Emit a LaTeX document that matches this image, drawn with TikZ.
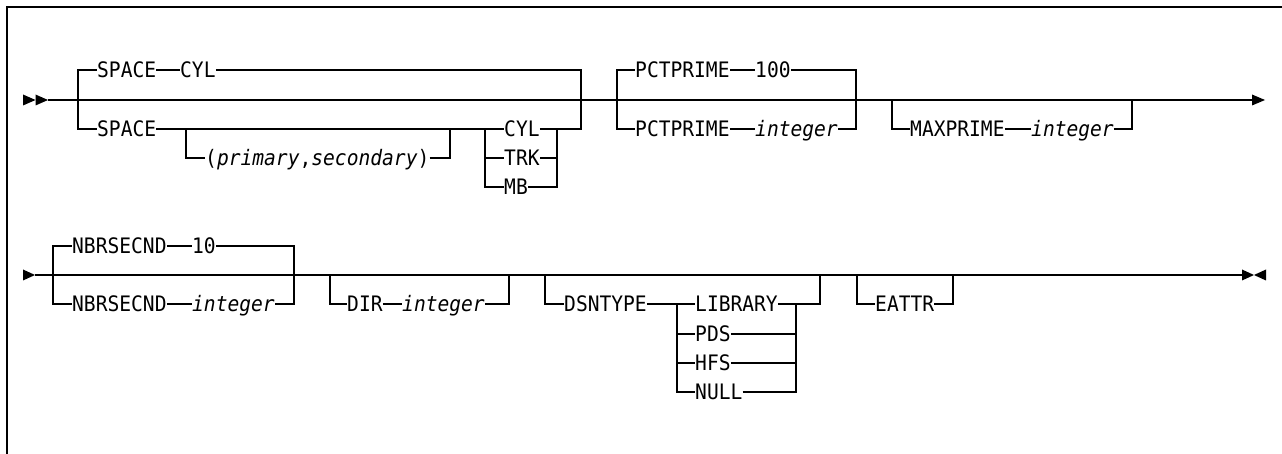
\documentclass[tikz,border=0pt]{standalone}
\usepackage{fontspec}
\newfontfamily\rrfont[FakeStretch=0.92]{DejaVu Sans Mono}
\begin{document}
\begin{tikzpicture}[x=1pt,y=-1pt,
  kw/.style={font=\rrfont\fontsize{21.3pt}{24pt}\selectfont, inner sep=0pt, anchor=west, text height=15.5pt, text depth=0pt},
  var/.style={kw, font=\rrfont\fontsize{21.3pt}{24pt}\selectfont\itshape},
  rail/.style={line width=1.3pt, line join=miter},
  tip/.style={fill=black}]
\useasboundingbox (0,0) rectangle (1282,454);
% frame
\draw[line width=1.6pt] (7,454) -- (7,7) -- (1282,7);

% ===== Row 1 =====
\coordinate (r1s) at (48,100);
\coordinate (r1e) at (1252,100);
\draw[rail] (r1s) -- (r1e);
\fill[tip] (23,94.5) -- (35.5,100) -- (23,105.5) -- cycle;
\fill[tip] (35.5,94.5) -- (48,100) -- (35.5,105.5) -- cycle;
\fill[tip] (r1e) ++(0,-5.5) -- (1265,100) -- (1252,105.5) -- cycle;

% SPACE group
\node[kw] (sp1) at (97,70) {SPACE};
\node[kw] (cyl1) at (180,70) {CYL};
\node[kw] (sp2) at (97,129) {SPACE};
\node[kw] (ps) at (205,158) {(\textit{primary},\textit{secondary})};
\node[kw] (cyl2) at (504,129) {CYL};
\node[kw] (trk) at (504,158) {TRK};
\node[kw] (mb) at (504,187) {MB};
\coordinate (g1l) at (78,100);
\coordinate (g1r) at (581,100);
\draw[rail] (g1l) -- (78,70) -- (sp1.west);
\draw[rail] (sp1.east) -- (cyl1.west);
\draw[rail] (cyl1.east) -- (581,70) -- (581,129) -- (557,129);
\draw[rail] (g1l) -- (78,129) -- (sp2.west);
\draw[rail] (sp2.east) -- (485,129);
\draw[rail] (186,129) -- (186,158) -- (ps.west);
\draw[rail] (ps.east) -- (450,158) -- (450,129);
\draw[rail] (485,129) -- (cyl2.west);
\draw[rail] (485,129) -- (485,187) -- (mb.west);
\draw[rail] (485,158) -- (trk.west);
\draw[rail] (cyl2.east) -- (557,129) -- (557,187) -- (mb.east);
\draw[rail] (trk.east) -- (557,158);

% PCTPRIME group
\node[kw] (pp1) at (635,70) {PCTPRIME};
\node[kw] (hund) at (755,70) {100};
\node[kw] (pp2) at (635,129) {PCTPRIME};
\node[var] (int1) at (755,129) {integer};
\draw[rail] (617,100) -- (617,70) -- (pp1.west);
\draw[rail] (617,100) -- (617,129) -- (pp2.west);
\draw[rail] (pp1.east) -- (hund.west);
\draw[rail] (pp2.east) -- (int1.west);
\draw[rail] (hund.east) -- (856,70) -- (856,129) -- (int1.east);

% MAXPRIME group
\node[kw] (mx) at (910,129) {MAXPRIME};
\node[var] (int2) at (1031,129) {integer};
\draw[rail] (892,100) -- (892,129) -- (mx.west);
\draw[rail] (mx.east) -- (int2.west);
\draw[rail] (int2.east) -- (1132,129) -- (1132,100);

% ===== Row 2 =====
\coordinate (r2s) at (35,275);
\coordinate (r2e) at (1242,275);
\draw[rail] (r2s) -- (r2e);
\fill[tip] (23,269.5) -- (35,275) -- (23,280.5) -- cycle;
\fill[tip] (1242,269.5) -- (1254,275) -- (1242,280.5) -- cycle;
\fill[tip] (1266,269.5) -- (1254,275) -- (1266,280.5) -- cycle;

% NBRSECND group
\node[kw] (nb1) at (72,246) {NBRSECND};
\node[kw] (ten) at (192,246) {10};
\node[kw] (nb2) at (72,304) {NBRSECND};
\node[var] (int3) at (192,304) {integer};
\draw[rail] (53,275) -- (53,246) -- (nb1.west);
\draw[rail] (53,275) -- (53,304) -- (nb2.west);
\draw[rail] (nb1.east) -- (ten.west);
\draw[rail] (nb2.east) -- (int3.west);
\draw[rail] (ten.east) -- (294,246) -- (294,304) -- (int3.east);

% DIR group
\node[kw] (dir) at (347,304) {DIR};
\node[var] (int4) at (402,304) {integer};
\draw[rail] (330,275) -- (330,304) -- (dir.west);
\draw[rail] (dir.east) -- (int4.west);
\draw[rail] (int4.east) -- (509,304) -- (509,275);

% DSNTYPE group
\node[kw] (dsn) at (564,304) {DSNTYPE};
\node[kw] (lib) at (695,304) {LIBRARY};
\node[kw] (pds) at (695,334) {PDS};
\node[kw] (hfs) at (695,363) {HFS};
\node[kw] (nul) at (695,392) {NULL};
\draw[rail] (545,275) -- (545,304) -- (dsn.west);
\draw[rail] (dsn.east) -- (lib.west);
\draw[rail] (677,304) -- (677,392) -- (nul.west);
\draw[rail] (677,334) -- (pds.west);
\draw[rail] (677,363) -- (hfs.west);
\draw[rail] (nul.east) -- (796,392) -- (796,304) -- (lib.east);
\draw[rail] (pds.east) -- (796,334);
\draw[rail] (hfs.east) -- (796,363);
\draw[rail] (796,304) -- (820,304) -- (820,275);

% EATTR group
\node[kw] (ea) at (875,304) {EATTR};
\draw[rail] (857,275) -- (857,304) -- (ea.west);
\draw[rail] (ea.east) -- (953,304) -- (953,275);
\end{tikzpicture}
\end{document}
